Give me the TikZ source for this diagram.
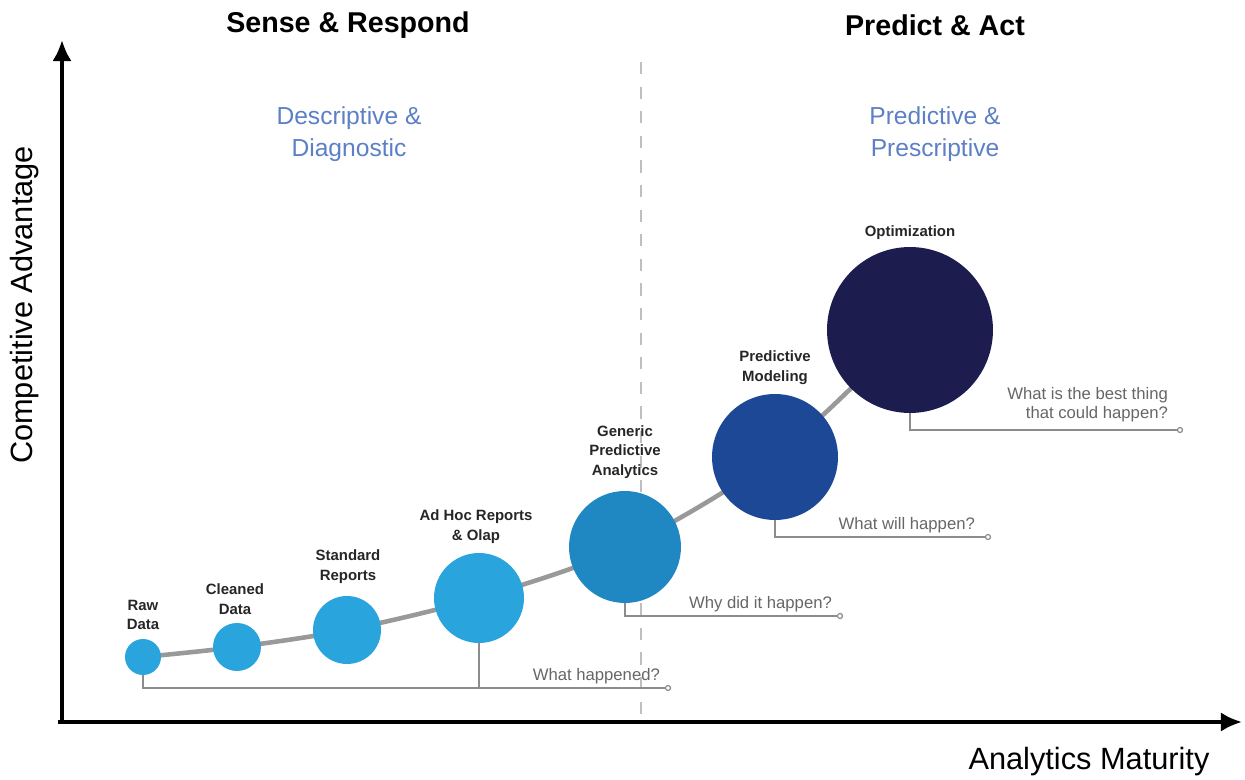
\documentclass[tikz,border=0pt]{standalone}
\usepackage{fontspec}
\setmainfont{Liberation Sans}
\usetikzlibrary{backgrounds,arrows.meta}

\definecolor{lightblue}{HTML}{29A4DD}
\definecolor{midblue}{HTML}{1F88C2}
\definecolor{deepblue}{HTML}{1C4895}
\definecolor{navyblue}{HTML}{1C1C4F}
\definecolor{subblue}{HTML}{5C80C6}
\definecolor{linegray}{HTML}{8C8C8C}

\tikzset{
  bubble/.style={circle, inner sep=0pt},
  stage/.style={font=\fontsize{8.5}{11.3}\selectfont\bfseries, align=center, text=black!85},
  question/.style={font=\fontsize{9.5}{10.8}\selectfont, text=black!60, align=right, anchor=south east, inner sep=1pt},
  bracket/.style={draw=linegray, line width=0.9pt},
  enddot/.style={circle, draw=linegray, fill=white, line width=0.7pt, inner sep=0pt, minimum size=0.1cm},
  heading/.style={font=\fontsize{16.3}{20}\selectfont\bfseries},
  subhead/.style={font=\fontsize{14}{18}\selectfont, text=subblue, align=center},
  axislabel/.style={font=\fontsize{17.5}{20}\selectfont},
  axis/.style={line width=2.2pt, -{Latex[length=12pt,width=11pt]}},
}

\begin{document}
\begin{tikzpicture}[x=0.02cm, y=-0.02cm]
  \useasboundingbox (0,0) rectangle (1245,780);

  % axes
  \coordinate (origin) at (62,722);
  \coordinate (ytop) at (62,40);
  \coordinate (xend) at (1242,722);
  \draw[axis] (62,724) -- (ytop);
  \draw[axis] (58,722) -- (xend);
  \node[axislabel, rotate=90] (yname) at (25,305) {Competitive Advantage};
  \node[axislabel] (xname) at (1089,762) {Analytics Maturity};

  % divider
  \coordinate (divtop) at (641,62);
  \coordinate (divbot) at (641,722);
  \draw[black!25, line width=0.9pt, dash pattern=on 7pt off 7pt] (divtop) -- (divbot);

  \node[heading] (sense) at (348,25) {Sense \& Respond};
  \node[heading] (predict) at (935,25) {Predict \& Act};
  \node[subhead] (descr) at (349,134) {Descriptive \&\\Diagnostic};
  \node[subhead] (presc) at (935,134) {Predictive \&\\Prescriptive};

  % bubbles
  \node[bubble, fill=lightblue, minimum size=0.72cm] (raw) at (143,657) {};
  \node[bubble, fill=lightblue, minimum size=0.96cm] (clean) at (237,647) {};
  \node[bubble, fill=lightblue, minimum size=1.36cm] (standard) at (347,630) {};
  \node[bubble, fill=lightblue, minimum size=1.80cm] (adhoc) at (479,598) {};
  \node[bubble, fill=midblue, minimum size=2.24cm] (generic) at (625,547) {};
  \node[bubble, fill=deepblue, minimum size=2.52cm] (modeling) at (775,457) {};
  \node[bubble, fill=navyblue, minimum size=3.32cm] (optim) at (910,330) {};

  \begin{pgfonlayer}{background}
    \draw[black!40, line width=2.6pt] plot[smooth, tension=0.5] coordinates
      {(raw.center) (clean.center) (standard.center) (adhoc.center) (generic.center) (modeling.center) (optim.center)};
  \end{pgfonlayer}

  \node[stage] (rawlbl) at (143,615) {Raw\\Data};
  \node[stage] (cleanlbl) at (235,599) {Cleaned\\Data};
  \node[stage] (standardlbl) at (348,567) {Standard\\Reports};
  \node[stage] (adhoclbl) at (476,527) {Ad Hoc Reports\\\& Olap};
  \node[stage] (genericlbl) at (625,452) {Generic\\Predictive\\Analytics};
  \node[stage] (modelinglbl) at (775,368) {Predictive\\Modeling};
  \node[stage] (optimlbl) at (910,233) {Optimization};

  % question brackets
  \node[enddot] (q1) at (668,688) {};
  \draw[bracket] (raw.south) |- (q1.west);
  \draw[bracket] (adhoc.south) -- (adhoc.south |- q1);
  \node[question] (q1txt) at (662,686) {What happened?};

  \node[enddot] (q2) at (840,616) {};
  \draw[bracket] (generic.south) |- (q2.west);
  \node[question] (q2txt) at (834,614) {Why did it happen?};

  \node[enddot] (q3) at (988,537) {};
  \draw[bracket] (modeling.south) |- (q3.west);
  \node[question] (q3txt) at (977,535) {What will happen?};

  \node[enddot] (q4) at (1180,430) {};
  \draw[bracket] (optim.south) |- (q4.west);
  \node[question] (q4txt) at (1170,424) {What is the best thing\\that could happen?};
\end{tikzpicture}
\end{document}
